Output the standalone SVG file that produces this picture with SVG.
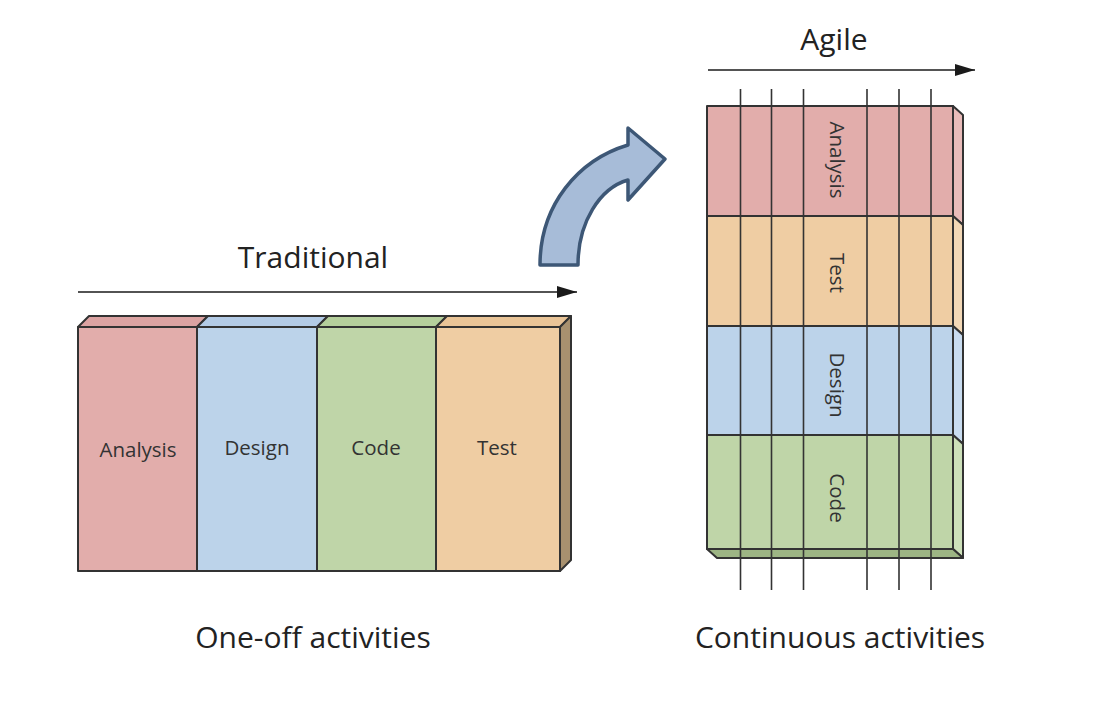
<svg xmlns="http://www.w3.org/2000/svg" width="1094" height="706" viewBox="0 0 1094 706">
<defs>
<marker id="ah" markerWidth="20" markerHeight="12" refX="20" refY="6" orient="auto" markerUnits="userSpaceOnUse"><path d="M0,0 L20,6 L0,12 Z" fill="#1a1a1a"/></marker>
<style>
.e{stroke:#333;stroke-width:2;stroke-linejoin:round}
.t{font-family:"Open Sans","Liberation Sans",sans-serif;fill:#222}
.big{font-size:30px}
.lab{font-size:20.5px;fill:#333}
.vl{stroke:#333;stroke-width:1.6}
</style>
</defs>
<rect width="1094" height="706" fill="#fff"/>
<g id="connectors">
<line x1="78" y1="292" x2="577" y2="292" stroke="#1a1a1a" stroke-width="1.6" marker-end="url(#ah)"/>
<line x1="708" y1="70" x2="975" y2="70" stroke="#1a1a1a" stroke-width="1.6" marker-end="url(#ah)"/>
<path id="bigArrow" d="M540,265 C540,205 578,160 628,145 L628,128 L665,159 L628,200 L628,180 C600,188 578,222 578,265 Z" fill="#a7bcd8" stroke="#3d5776" stroke-width="3.5" stroke-linejoin="round"/>
</g>
<text class="t big" x="313" y="268" text-anchor="middle">Traditional</text>
<text class="t big" x="834" y="50" text-anchor="middle">Agile</text>
<text class="t big" x="313" y="648" text-anchor="middle">One-off activities</text>
<text class="t big" x="840" y="648" text-anchor="middle">Continuous activities</text>
<g id="traditional">
<g id="t-analysis">
<path class="e" d="M78,327 L89,316 L208,316 L197,327 Z" fill="#dca3a2"/>
<rect class="e" x="78" y="327" width="119" height="244" fill="#e2adab"/>
<text class="t lab" x="138" y="457" text-anchor="middle">Analysis</text>
</g>
<g id="t-design">
<path class="e" d="M197,327 L208,316 L328,316 L317,327 Z" fill="#b3cbe6"/>
<rect class="e" x="197" y="327" width="120" height="244" fill="#bcd3ea"/>
<text class="t lab" x="257" y="455" text-anchor="middle">Design</text>
</g>
<g id="t-code">
<path class="e" d="M317,327 L328,316 L447,316 L436,327 Z" fill="#b5cf9c"/>
<rect class="e" x="317" y="327" width="119" height="244" fill="#bfd5a8"/>
<text class="t lab" x="376" y="455" text-anchor="middle">Code</text>
</g>
<g id="t-test">
<path class="e" d="M436,327 L447,316 L571,316 L560,327 Z" fill="#e9c497"/>
<rect class="e" x="436" y="327" width="124" height="244" fill="#efcda3"/>
<path class="e" d="M560,327 L571,316 L571,560 L560,571 Z" fill="#a8916f"/>
<text class="t lab" x="497" y="455" text-anchor="middle">Test</text>
</g>
</g>
<g id="agile">
<g id="a-analysis">
<rect class="e" x="707" y="106" width="246" height="110" fill="#e2adab"/>
<path class="e" d="M953,106 L963,115 L963,225 L953,216 Z" fill="#e9bcba"/>
<text class="t lab" transform="translate(830,160) rotate(90)" text-anchor="middle">Analysis</text>
</g>
<g id="a-test">
<rect class="e" x="707" y="216" width="246" height="110" fill="#efcda3"/>
<path class="e" d="M953,216 L963,225 L963,335 L953,326 Z" fill="#f3d8b6"/>
<text class="t lab" transform="translate(830,273) rotate(90)" text-anchor="middle">Test</text>
</g>
<g id="a-design">
<rect class="e" x="707" y="326" width="246" height="109" fill="#bcd3ea"/>
<path class="e" d="M953,326 L963,335 L963,444 L953,435 Z" fill="#c9dcf0"/>
<text class="t lab" transform="translate(830,385) rotate(90)" text-anchor="middle">Design</text>
</g>
<g id="a-code">
<rect class="e" x="707" y="435" width="246" height="114" fill="#bfd5a8"/>
<path class="e" d="M953,435 L963,444 L963,558 L953,549 Z" fill="#cde0ba"/>
<path class="e" d="M707,549 L717,558 L963,558 L953,549 Z" fill="#9db584"/>
<text class="t lab" transform="translate(830,498) rotate(90)" text-anchor="middle">Code</text>
</g>
<g id="iterations">
<line class="vl" x1="740.5" y1="89" x2="740.5" y2="590"/>
<line class="vl" x1="771.5" y1="89" x2="771.5" y2="590"/>
<line class="vl" x1="803.5" y1="89" x2="803.5" y2="590"/>
<line class="vl" x1="867" y1="89" x2="867" y2="590"/>
<line class="vl" x1="899" y1="89" x2="899" y2="590"/>
<line class="vl" x1="931" y1="89" x2="931" y2="590"/>
</g>
</g>
</svg>
